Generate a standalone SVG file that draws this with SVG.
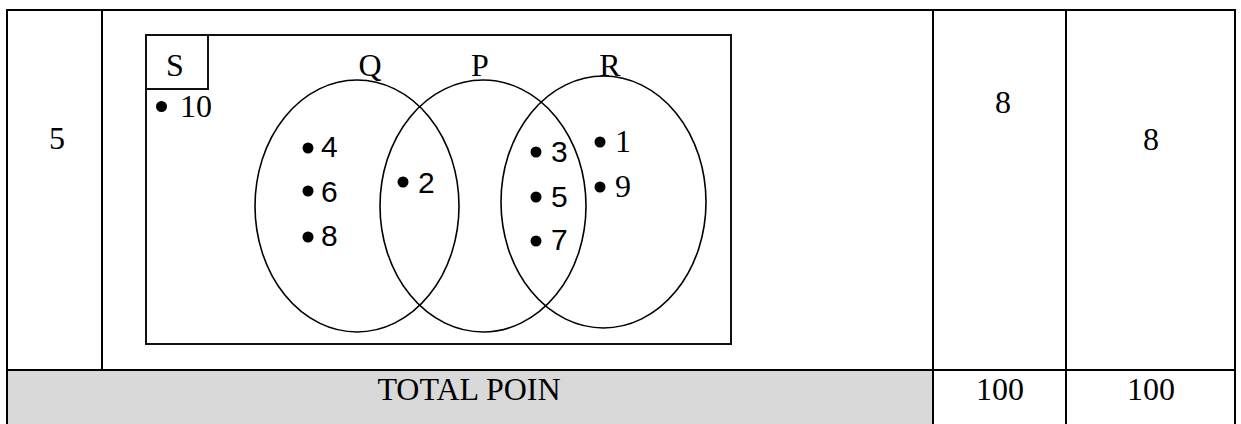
<svg xmlns="http://www.w3.org/2000/svg" width="1241" height="424" viewBox="0 0 1241 424">
  <style>
    .grid { stroke: #000; stroke-width: 2; fill: none; }
    .frame { stroke: #111; stroke-width: 2; fill: none; }
    .set { stroke: #000; stroke-width: 1.6; fill: none; }
    .serif { font-family: "Liberation Serif", "Times New Roman", serif; font-size: 32px; fill: #000; }
    .sans { font-family: "Liberation Sans", Arial, sans-serif; font-size: 30px; fill: #000; }
    .dot { fill: #000; }
  </style>

  <rect x="0" y="0" width="1241" height="424" fill="#fff"/>

  <!-- table -->
  <g id="table">
    <rect x="7" y="370" width="926" height="56" fill="#d9d9d9"/>
    <path class="grid" d="M7 424 V10 H1235 V424 M102 10 V370 M933 10 V424 M1066 10 V424 M7 370 H1235"/>
    <text class="serif" x="57" y="149" text-anchor="middle">5</text>
    <text class="serif" x="1003" y="113" text-anchor="middle">8</text>
    <text class="serif" x="1151" y="150" text-anchor="middle">8</text>
    <text class="serif" x="469" y="400" text-anchor="middle">TOTAL POIN</text>
    <text class="serif" x="1000" y="400" text-anchor="middle">100</text>
    <text class="serif" x="1151" y="400" text-anchor="middle">100</text>
  </g>

  <!-- universal set -->
  <g id="universe">
    <rect class="frame" x="146" y="35" width="585" height="309"/>
    <rect class="frame" x="146" y="35" width="62" height="54"/>
    <text class="serif" x="175" y="76" text-anchor="middle">S</text>
    <circle class="dot" cx="161.5" cy="106.5" r="5.5"/>
    <text class="serif" x="180" y="117">10</text>
  </g>

  <!-- set Q -->
  <g id="set-q">
    <ellipse class="set" cx="357" cy="206" rx="102" ry="126"/>
    <text class="serif" x="370" y="76" text-anchor="middle">Q</text>
    <circle class="dot" cx="308" cy="148" r="5.5"/>
    <text class="sans" x="321" y="157">4</text>
    <circle class="dot" cx="308" cy="191" r="5.5"/>
    <text class="sans" x="321" y="202">6</text>
    <circle class="dot" cx="308" cy="237" r="5.5"/>
    <text class="sans" x="321" y="246">8</text>
  </g>

  <!-- set P -->
  <g id="set-p">
    <ellipse class="set" cx="483" cy="206" rx="103" ry="126"/>
    <text class="serif" x="480" y="76" text-anchor="middle">P</text>
    <circle class="dot" cx="403" cy="182" r="5.5"/>
    <text class="sans" x="418" y="193">2</text>
  </g>

  <!-- set R -->
  <g id="set-r">
    <ellipse class="set" cx="603.5" cy="202" rx="102.5" ry="126"/>
    <text class="serif" x="610" y="76" text-anchor="middle">R</text>
    <circle class="dot" cx="536" cy="152" r="5.5"/>
    <text class="sans" x="551" y="162">3</text>
    <circle class="dot" cx="536" cy="197" r="5.5"/>
    <text class="sans" x="551" y="207">5</text>
    <circle class="dot" cx="536" cy="241" r="5.5"/>
    <text class="sans" x="551" y="250">7</text>
    <circle class="dot" cx="600" cy="142" r="5.5"/>
    <text class="serif" x="615" y="152">1</text>
    <circle class="dot" cx="600" cy="187" r="5.5"/>
    <text class="serif" x="615" y="197">9</text>
  </g>
</svg>
